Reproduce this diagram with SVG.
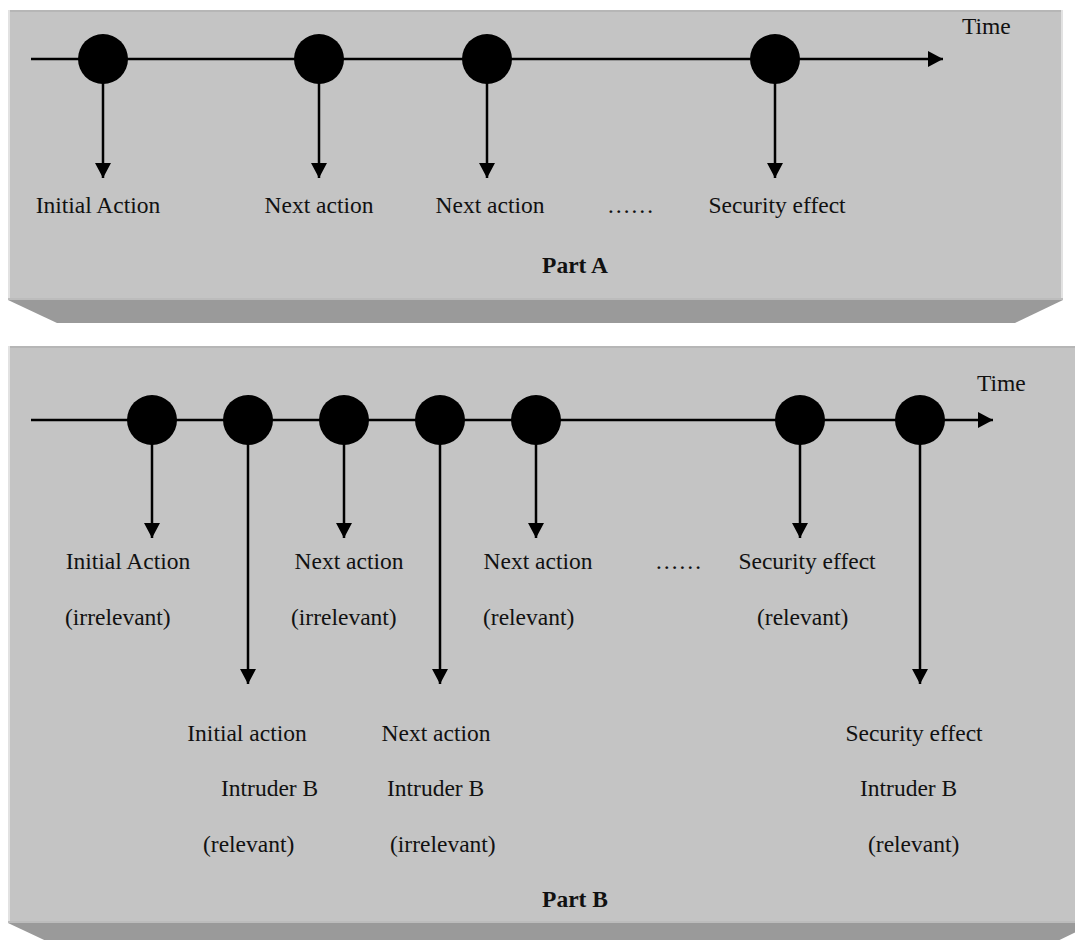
<svg xmlns="http://www.w3.org/2000/svg" width="1075" height="940" viewBox="0 0 1075 940">
  <style>
    .face { fill: #c4c4c4; }
    .bevel { fill: #9a9a9a; }
    .edge-top { fill: #b6b6b6; }
    .edge-light { fill: #e2e2e2; }
    .edge-bot { fill: #bcbcbc; }
    .axis { stroke: #000; stroke-width: 2.5; fill: none; }
    .drop { stroke: #000; stroke-width: 2.5; fill: none; marker-end: url(#head); }
    .dot { fill: #000; }
    text { font-family: "Liberation Serif", "Times New Roman", serif; font-size: 23.5px; fill: #111; }
    .mid { text-anchor: middle; }
    .title { font-weight: bold; }
  </style>
  <defs>
    <marker id="head" markerUnits="userSpaceOnUse" markerWidth="16" markerHeight="16" refX="15" refY="8" orient="auto">
      <path d="M0,0 L15,8 L0,16 Z" fill="#000"/>
    </marker>
  </defs>

  <!-- Part A panel -->
  <g id="panel-a">
    <polygon class="bevel" points="8,300 1063,300 1015,323 57,323"/>
    <rect class="face" x="8" y="10" width="1055" height="290"/>
    <rect class="edge-top" x="8" y="10" width="1055" height="2"/>
    <rect class="edge-light" x="8" y="10" width="2" height="290"/>
    <rect class="edge-light" x="1061" y="10" width="2" height="290"/>
    <rect class="edge-bot" x="8" y="298" width="1055" height="2"/>
  </g>

  <!-- Part B panel -->
  <g id="panel-b">
    <polygon class="bevel" points="8,923 1095,923 1047,946 57,946"/>
    <rect class="face" x="8" y="346" width="1087" height="577"/>
    <rect class="edge-top" x="8" y="346" width="1087" height="2"/>
    <rect class="edge-light" x="8" y="346" width="2" height="577"/>
    <rect class="edge-bot" x="8" y="921" width="1087" height="2"/>
  </g>

  <!-- connectors: time axes and drop arrows -->
  <g id="connectors">
    <line class="axis" x1="31" y1="59" x2="943" y2="59" marker-end="url(#head)"/>
    <line class="drop" x1="103" y1="59" x2="103" y2="178"/>
    <line class="drop" x1="319" y1="59" x2="319" y2="178"/>
    <line class="drop" x1="487" y1="59" x2="487" y2="178"/>
    <line class="drop" x1="775" y1="59" x2="775" y2="178"/>

    <line class="axis" x1="31" y1="420" x2="993" y2="420" marker-end="url(#head)"/>
    <line class="drop" x1="152" y1="420" x2="152" y2="538"/>
    <line class="drop" x1="344" y1="420" x2="344" y2="538"/>
    <line class="drop" x1="536" y1="420" x2="536" y2="538"/>
    <line class="drop" x1="800" y1="420" x2="800" y2="538"/>
    <line class="drop" x1="248" y1="420" x2="248" y2="684"/>
    <line class="drop" x1="440" y1="420" x2="440" y2="684"/>
    <line class="drop" x1="920" y1="420" x2="920" y2="684"/>
  </g>

  <!-- Part A events -->
  <g id="a-initial"><circle class="dot" cx="103" cy="59" r="25"/><text class="mid" x="98" y="213">Initial Action</text></g>
  <g id="a-next1"><circle class="dot" cx="319" cy="59" r="25"/><text class="mid" x="319" y="213">Next action</text></g>
  <g id="a-next2"><circle class="dot" cx="487" cy="59" r="25"/><text class="mid" x="490" y="213">Next action</text></g>
  <g id="a-ellipsis"><text x="607" y="213">……</text></g>
  <g id="a-effect"><circle class="dot" cx="775" cy="59" r="25"/><text class="mid" x="777" y="213">Security effect</text></g>
  <g id="a-time"><text x="962" y="34">Time</text></g>
  <g id="a-title"><text class="mid title" x="575" y="273">Part A</text></g>

  <!-- Part B events -->
  <g id="b-initial">
    <circle class="dot" cx="152" cy="420" r="25"/>
    <text class="mid" x="128" y="569">Initial Action</text>
    <text x="65" y="625">(irrelevant)</text>
  </g>
  <g id="b-intruder-initial">
    <circle class="dot" cx="248" cy="420" r="25"/>
    <text class="mid" x="247" y="741">Initial action</text>
    <text x="221" y="796">Intruder B</text>
    <text x="203" y="852">(relevant)</text>
  </g>
  <g id="b-next1">
    <circle class="dot" cx="344" cy="420" r="25"/>
    <text class="mid" x="349" y="569">Next action</text>
    <text x="291" y="625">(irrelevant)</text>
  </g>
  <g id="b-intruder-next">
    <circle class="dot" cx="440" cy="420" r="25"/>
    <text class="mid" x="436" y="741">Next action</text>
    <text x="387" y="796">Intruder B</text>
    <text x="390" y="852">(irrelevant)</text>
  </g>
  <g id="b-next2">
    <circle class="dot" cx="536" cy="420" r="25"/>
    <text class="mid" x="538" y="569">Next action</text>
    <text x="483" y="625">(relevant)</text>
  </g>
  <g id="b-ellipsis"><text x="655" y="569">……</text></g>
  <g id="b-effect">
    <circle class="dot" cx="800" cy="420" r="25"/>
    <text class="mid" x="807" y="569">Security effect</text>
    <text x="757" y="625">(relevant)</text>
  </g>
  <g id="b-intruder-effect">
    <circle class="dot" cx="920" cy="420" r="25"/>
    <text class="mid" x="914" y="741">Security effect</text>
    <text x="860" y="796">Intruder B</text>
    <text x="868" y="852">(relevant)</text>
  </g>
  <g id="b-time"><text x="977" y="391">Time</text></g>
  <g id="b-title"><text class="mid title" x="575" y="907">Part B</text></g>
</svg>
